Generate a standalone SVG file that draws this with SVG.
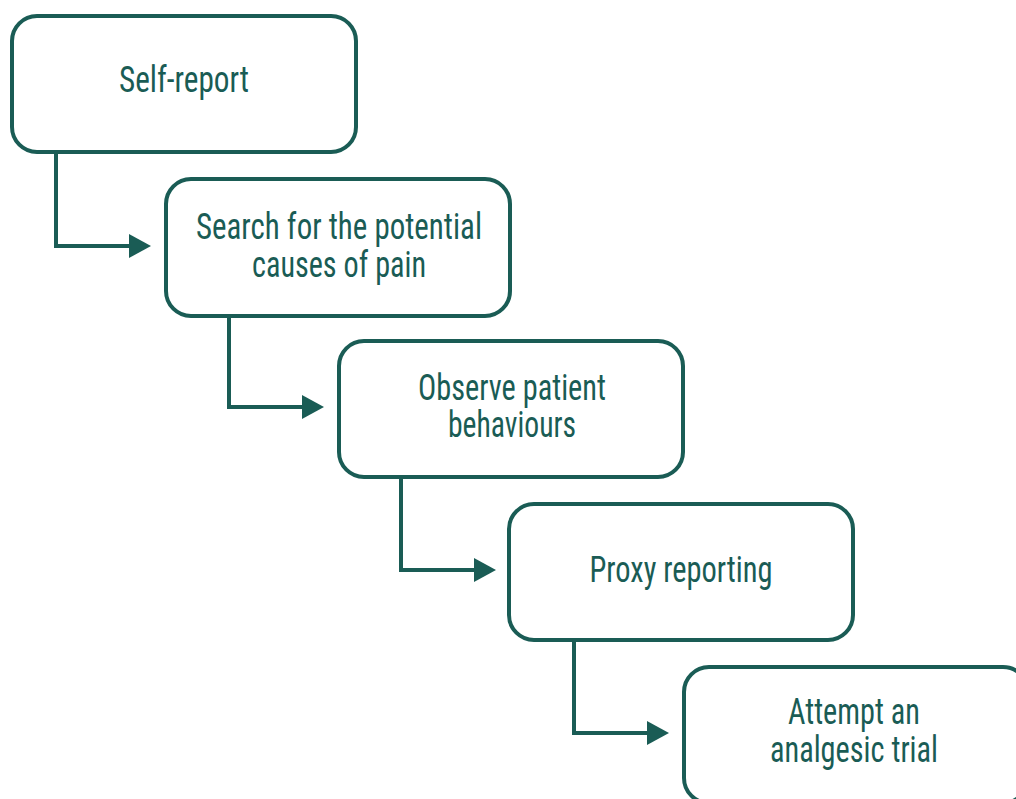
<svg xmlns="http://www.w3.org/2000/svg" width="1016" height="799" viewBox="0 0 1016 799">
  <style>
    .box { fill: #ffffff; stroke: #1a5c55; stroke-width: 4; }
    .lbl { font-family: "Liberation Sans Narrow", "Roboto Condensed", "DejaVu Sans Condensed", "Liberation Sans", sans-serif; font-size: 37px; fill: #1a5c55; text-anchor: middle; }
    .conn { fill: none; stroke: #1a5c55; stroke-width: 4; stroke-linejoin: miter; }
  </style>
  <defs>
    <marker id="arrow" markerUnits="userSpaceOnUse" markerWidth="24" markerHeight="26" refX="12" refY="13" orient="auto" viewBox="0 0 24 26">
      <path d="M0,1 L22,13 L0,25 z" fill="#1a5c55"/>
    </marker>
  </defs>
  <rect width="1016" height="799" fill="#ffffff"/>

  <g id="connectors">
    <path class="conn" d="M56,154 V246 H141" marker-end="url(#arrow)"/>
    <path class="conn" d="M229,318 V407 H314" marker-end="url(#arrow)"/>
    <path class="conn" d="M401,478 V570 H486" marker-end="url(#arrow)"/>
    <path class="conn" d="M574,641 V733 H659" marker-end="url(#arrow)"/>
  </g>

  <g id="node-self-report">
    <rect class="box" x="12" y="16" width="344" height="136" rx="25"/>
    <text class="lbl" x="184" y="92" textLength="130" lengthAdjust="spacingAndGlyphs">Self-report</text>
  </g>

  <g id="node-search-causes">
    <rect class="box" x="166" y="179" width="344" height="137" rx="25"/>
    <text class="lbl" x="339" y="239" textLength="286" lengthAdjust="spacingAndGlyphs">Search for the potential</text>
    <text class="lbl" x="339" y="277" textLength="174" lengthAdjust="spacingAndGlyphs">causes of pain</text>
  </g>

  <g id="node-observe">
    <rect class="box" x="339" y="341" width="344" height="136" rx="25"/>
    <text class="lbl" x="512" y="400" textLength="188" lengthAdjust="spacingAndGlyphs">Observe patient</text>
    <text class="lbl" x="512" y="437" textLength="128" lengthAdjust="spacingAndGlyphs">behaviours</text>
  </g>

  <g id="node-proxy">
    <rect class="box" x="509" y="504" width="344" height="136" rx="25"/>
    <text class="lbl" x="681" y="582" textLength="183" lengthAdjust="spacingAndGlyphs">Proxy reporting</text>
  </g>

  <g id="node-analgesic">
    <rect class="box" x="684" y="667" width="344" height="136" rx="25"/>
    <text class="lbl" x="854" y="724" textLength="132" lengthAdjust="spacingAndGlyphs">Attempt an</text>
    <text class="lbl" x="854" y="762" textLength="168" lengthAdjust="spacingAndGlyphs">analgesic trial</text>
  </g>
</svg>
